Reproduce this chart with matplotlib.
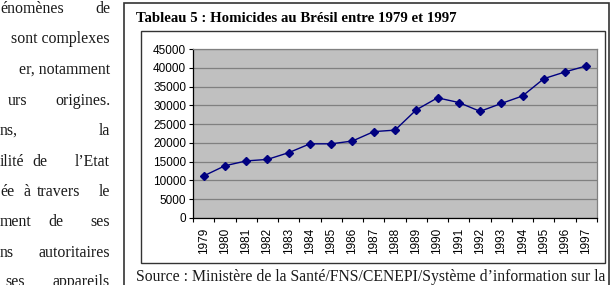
import numpy as np
import matplotlib.pyplot as plt
from matplotlib.patches import Rectangle

# Homicides au Brésil 1979-1997
annees = ['1979', '1980', '1981', '1982', '1983', '1984', '1985', '1986', '1987', '1988',
          '1989', '1990', '1991', '1992', '1993', '1994', '1995', '1996', '1997']
homicides = [11200, 13900, 15200, 15600, 17400, 19750, 19750, 20500, 23000, 23400,
             28800, 32000, 30750, 28400, 30500, 32500, 37100, 38900, 40500]

titre = "Tableau 5 : Homicides au Brésil entre 1979 et 1997"
source = "Source : Ministère de la Santé/FNS/CENEPI/Système d\u2019information sur la"

# morceaux du paragraphe coupé à gauche : (texte, x, alignement, ligne)
paragraphe = [
    ("énomènes", 0, 'left', 0), ("de", 110, 'right', 0),
    ("sont complexes", 110, 'right', 1),
    ("er, notamment", 110, 'right', 2),
    ("urs", 8, 'left', 3), ("origines.", 110, 'right', 3),
    ("ns,", 0, 'left', 4), ("la", 110, 'right', 4),
    ("ilité", 0, 'left', 5), ("de", 32, 'left', 5), ("l\u2019Etat", 110, 'right', 5),
    ("ée", 0, 'left', 6), ("à", 24, 'left', 6), ("travers", 37, 'left', 6), ("le", 110, 'right', 6),
    ("ment", 0, 'left', 7), ("de", 48, 'left', 7), ("ses", 110, 'right', 7),
    ("ns", 0, 'left', 8), ("autoritaires", 110, 'right', 8),
    ("ses", 5, 'left', 9), ("appareils", 110, 'right', 9),
]
lignes_y = [9, 39, 70, 101, 131, 162, 192, 222, 253, 282]

W, H = 613, 285
fig = plt.figure(figsize=(W / 100, H / 100), dpi=100)
fig.patch.set_facecolor('white')


def fx(x):
    return x / W


def fy(y):
    return 1 - y / H


serif = ['Liberation Serif', 'DejaVu Serif']
sans = ['Liberation Sans', 'DejaVu Sans']

for txt, x, ha, i in paragraphe:
    fig.text(fx(x), fy(lignes_y[i]), txt, ha=ha, va='center', fontsize=11.4,
             family=serif, color='#1a1a1a')

# cadre extérieur et cadre du graphique
fig.add_artist(Rectangle((fx(124), fy(300)), fx(609) - fx(124), fy(3) - fy(300),
                         transform=fig.transFigure, fill=False, lw=1.2, ec='#333333'))
fig.add_artist(Rectangle((fx(141), fy(263)), fx(605) - fx(141), fy(31) - fy(263),
                         transform=fig.transFigure, fill=False, lw=1.0, ec='#333333'))

fig.text(fx(136), fy(19), titre, ha='left', va='center', fontsize=10.7,
         fontweight='bold', family=serif, color='black')
fig.text(fx(136), fy(277), source, ha='left', va='center', fontsize=11.3,
         family=serif, color='#1a1a1a')

ax = fig.add_axes([fx(193), fy(218), fx(597) - fx(193), fy(49) - fy(218)])
ax.set_facecolor('#C0C0C0')

x = np.arange(len(annees))
ax.plot(x, homicides, color='#000080', lw=1.0, marker='D', markersize=4.5,
        markerfacecolor='#000080', markeredgecolor='#000080', zorder=3)

ax.set_ylim(0, 45000)
ax.set_yticks(np.arange(0, 45001, 5000))
ax.yaxis.grid(True, color='#808080', lw=0.9)
ax.set_axisbelow(True)

ax.set_xlim(-0.5, len(annees) - 0.5)
ax.set_xticks(x)
ax.set_xticklabels(annees, rotation=90, family=sans, fontsize=8.5)
ax.set_xticks(np.arange(-0.5, len(annees), 1), minor=True)
ax.tick_params(axis='x', which='major', length=0, pad=7)
ax.tick_params(axis='x', which='minor', length=3, width=0.8, color='black')
ax.tick_params(axis='y', length=3, width=0.8, pad=2, labelsize=8.5)
for lab in ax.get_yticklabels():
    lab.set_family(sans)

ax.spines['left'].set_color('black')
ax.spines['bottom'].set_color('black')
ax.spines['top'].set_color('#808080')
ax.spines['right'].set_color('#808080')
for s in ax.spines.values():
    s.set_linewidth(0.9)

fig.savefig('out.png', dpi=100)
